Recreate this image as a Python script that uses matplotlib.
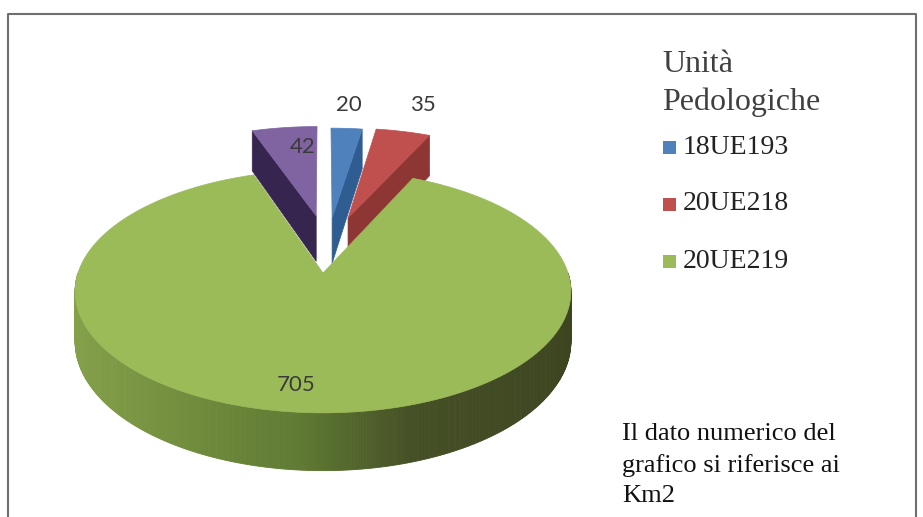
import matplotlib
matplotlib.use('Agg')
import matplotlib.pyplot as plt
from matplotlib.patches import Polygon, Rectangle
import numpy as np

# data (Km2)
values = [20, 35, 705, 42]
value_labels = ['20', '35', '705', '42']
legend_title = 'Unità\nPedologiche'
legend_labels = ['18UE193', '20UE218', '20UE219']
note = 'Il dato numerico del\ngrafico si riferisce ai\nKm2'

top_colors = ['#4F81BD', '#C0504D', '#9BBB59', '#8064A2']
side_colors = ['#2F5D92', '#8E3634', '#6F8A3C', '#36254F']
# explosion of each slice on the pie plane (u, v)
explode = [(0.04, 0.50), (0.11, 0.50), (0.0, 0.0), (-0.03, 0.52)]

# projection of the pie plane to pixels
CX, CY = 323, 273
F, G, K = 245, 118.6, 0.152
DEPTH = 49


def project(u, v, low=False):
    w = 1 + K * v
    x = CX + F * u / w
    y = CY - G * v / w
    if low:
        y = y + DEPTH / w
    return x, y


def slice_points(t1, t2, off, low=False):
    # t in degrees clockwise from 12 o'clock
    t = np.radians(np.linspace(t1, t2, 200))
    u = off[0] + np.sin(t)
    v = off[1] + np.cos(t)
    rim = [project(a, b, low) for a, b in zip(u, v)]
    return [project(off[0], off[1], low)] + rim


def label_pos(t1, t2, off, r):
    t = np.radians((t1 + t2) / 2)
    return project(off[0] + r * np.sin(t), off[1] + r * np.cos(t))


fig = plt.figure(figsize=[9.23, 5.17], dpi=100)
ax = fig.add_axes([0, 0, 1, 1])
ax.set_xlim(0, 923)
ax.set_ylim(517, 0)
ax.axis('off')

# frame, open at the bottom
ax.plot([8, 8, 916, 916], [517, 14, 14, 517], color='#6f6f6f', linewidth=1.5)

angles = np.cumsum([0] + values) / sum(values) * 360
side_shades = ['#84A04A', '#76913F', '#5F7A33', '#465026', '#3C4520']
side_x = [76, 160, 300, 410, 572]
side_rgb = np.array([matplotlib.colors.to_rgb(c) for c in side_shades])

for i in [3, 0, 1, 2]:
    t1, t2 = angles[i], angles[i + 1]
    off = explode[i]
    if values[i] == max(values):
        # outer wall, only the front half shows, shaded from left to right
        ts = np.linspace(90, 270, 300)
        for a, b in zip(ts[:-1], ts[1:]):
            p1 = slice_points(a, b, off)[1:]
            p2 = slice_points(a, b, off, low=True)[1:]
            xm = (p1[0][0] + p1[-1][0]) / 2
            c = [np.interp(xm, side_x, side_rgb[:, k]) for k in range(3)]
            ax.add_patch(Polygon([p1[0], p1[-1], p2[-1], p2[0]], closed=True,
                                 facecolor=c, edgecolor=c, linewidth=0.6, snap=False))
    else:
        # cut wall of the slice: the right one, the left one for the purple slice
        edge = t1 if i == 3 else t2
        t = np.radians(edge)
        wall = [project(off[0], off[1]),
                project(off[0] + np.sin(t), off[1] + np.cos(t)),
                project(off[0] + np.sin(t), off[1] + np.cos(t), low=True),
                project(off[0], off[1], low=True)]
        ax.add_patch(Polygon(wall, closed=True, facecolor=side_colors[i],
                             edgecolor=side_colors[i], linewidth=0.5))
    ax.add_patch(Polygon(slice_points(t1, t2, off), closed=True,
                         facecolor=top_colors[i], edgecolor=top_colors[i], linewidth=0.5))

# data labels
label_font = ['Lato', 'DejaVu Sans']
lab_r = [1.28, 1.28, 0.78, 0.62]
lab_shift = [(-1, -2), (7, -6), (-16, 7), (7, -11)]
for i in range(len(values)):
    t1, t2 = angles[i], angles[i + 1]
    x, y = label_pos(t1, t2, explode[i], lab_r[i])
    ax.text(x + lab_shift[i][0], y + lab_shift[i][1], value_labels[i], fontsize=16, family=label_font,
            color='#3a3a3a', ha='center', va='center')

# legend
serif = ['Liberation Serif', 'DejaVu Serif']
ax.text(662, 83.5, legend_title, fontsize=23, family=serif, color='#404040',
        ha='left', va='center', linespacing=1.35)
for i, lab in enumerate(legend_labels):
    y = 147 + i * 57
    ax.add_patch(Rectangle((663, y - 6.5), 13, 13, facecolor=top_colors[i], edgecolor='none'))
    ax.text(683, y, lab, fontsize=20, family=serif, color='#222222', ha='left', va='center')

ax.text(622, 465, note, fontsize=19, family=serif, color='#111111',
        ha='left', va='center', linespacing=1.5)

plt.savefig('out.png', dpi=100)
